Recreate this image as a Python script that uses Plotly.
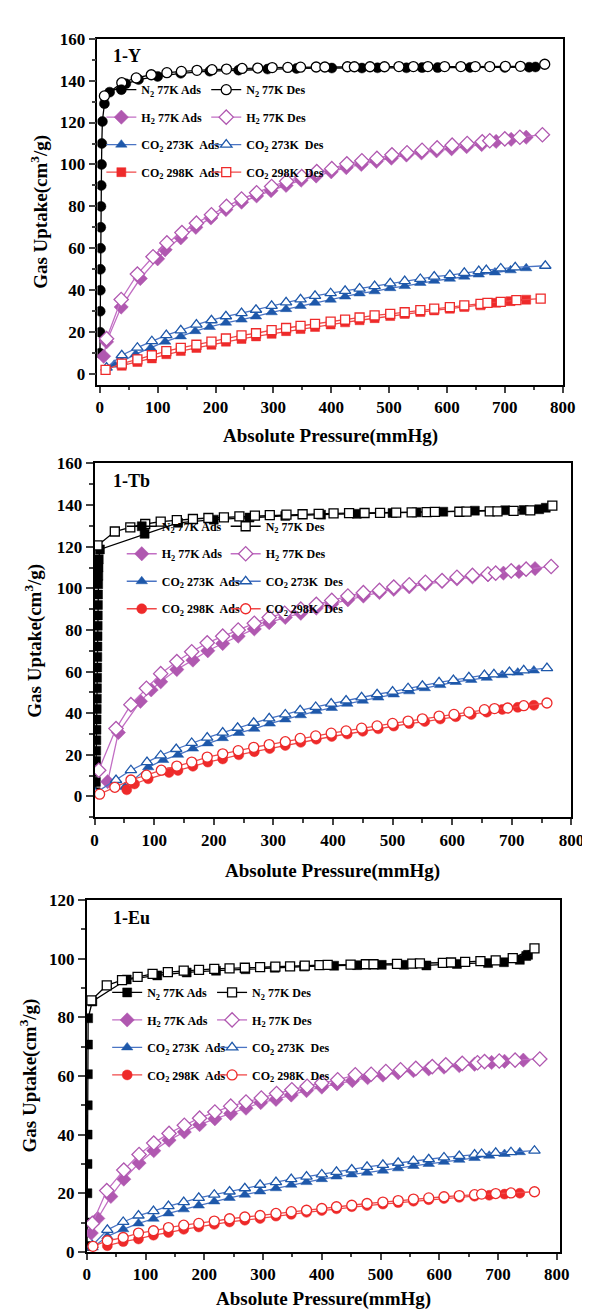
import plotly.graph_objects as go

W, H = 590, 1314
FONT = "Liberation Serif"

# ---------------- Panel 1 : 1-Y ----------------
Y_N2_ADS_P = [0.3, 0.5, 0.7, 0.9, 1.1, 1.4, 1.7, 2.0, 2.5, 3.0, 3.5, 4.5, 8, 17, 45, 67, 100, 140, 190, 240,
              290, 340, 401, 453, 480, 530, 557, 584, 640, 700, 742, 753]
Y_N2_ADS_V = [10, 20, 30, 40, 50, 60, 70, 80, 90, 100, 110, 120.5, 129, 134.5, 138.5, 140.5, 142, 143.5, 144.5, 145,
              145.5, 145.8, 146, 146, 146.1, 146.1, 146.2, 146.2, 146.3, 146.3, 146.4, 146.5]
Y_N2_DES_P = [8, 38, 63, 89, 116, 141, 168, 194, 219, 246, 273, 298, 325, 347, 374, 389, 428, 440, 467, 492,
              517, 542, 567, 596, 624, 649, 674, 701, 727, 769]
Y_N2_DES_V = [132.7, 139, 141.3, 142.8, 143.8, 144.4, 144.9, 145.2, 145.5, 145.8, 146, 146.2, 146.3, 146.4, 146.5,
              146.5, 146.6, 146.6, 146.6, 146.6, 146.7, 146.7, 146.7, 146.7, 146.7, 146.7, 146.7, 146.8, 146.8, 147.8]
Y_H2_ADS_P = [6.7, 11.7, 37, 70, 100, 113, 140, 166, 192, 218, 245, 271, 296, 322, 348, 374, 400, 426, 452, 478,
              504, 530, 556, 582, 608, 634, 660, 685, 711, 737]
Y_H2_ADS_V = [8.5, 15.4, 32, 45.6, 55, 59.3, 65, 70, 74.5, 78.5, 82, 85, 87.5, 90, 92.5, 94.5, 96.5, 98.5, 100, 101.5,
              103, 104.5, 105.5, 106.5, 107.5, 108.5, 109.5, 111, 112, 113]
Y_H2_DES_P = [11.7, 37, 65, 92, 116, 142, 167, 193, 219, 245, 271, 297, 323, 349, 375, 401, 427, 453, 479, 505,
              531, 557, 583, 609, 635, 661, 674, 700, 726, 765]
Y_H2_DES_V = [16.9, 35.6, 47.7, 56, 62.6, 67.5, 72, 76, 80, 83.5, 86.5, 89.5, 92, 94.2, 96.6, 98, 100.3, 101.8, 102.9,
              104.6, 105.6, 106.8, 107.9, 109.2, 110, 110.8, 111.3, 112.2, 113, 114.2]
Y_C273_ADS_P = [25, 38, 62, 88, 113, 140, 165, 190, 218, 245, 270, 297, 322, 347, 372, 399, 424, 449, 475, 502,
                527, 554, 578, 605, 630, 655, 683, 710, 737]
Y_C273_ADS_V = [4.5, 6, 9.5, 12.5, 15.5, 18, 20.5, 22.5, 24.5, 26, 27.5, 29.5, 31, 32.5, 34, 35.5, 37, 38.5, 39.5, 41,
                42, 43.5, 44.5, 45.5, 46.5, 47.5, 48.5, 49.5, 50.5]
Y_C273_DES_P = [11.7, 38, 65, 90, 115, 140, 167, 193, 218, 245, 270, 297, 322, 347, 372, 399, 424, 449, 475, 502,
                527, 554, 578, 605, 630, 655, 668, 693, 718, 770]
Y_C273_DES_V = [3.1, 9, 12.6, 15.7, 18.6, 20.9, 23.6, 25.7, 27.6, 29.1, 30.7, 32.6, 34.2, 35.7, 37.3, 38.6, 39.7, 40.8,
                42, 43.3, 44.4, 45.4, 46.5, 47.2, 48.3, 49.1, 49.6, 50.4, 50.9, 51.7]
Y_C298_ADS_P = [38, 65, 90, 115, 140, 167, 193, 218, 245, 270, 297, 322, 347, 372, 399, 424, 449, 475, 502, 527,
                554, 578, 605, 630, 658, 685, 710, 737]
Y_C298_ADS_V = [4, 5.8, 7.5, 9.5, 11, 12.5, 14, 15.5, 16.8, 18, 19.2, 20.5, 21.5, 22.5, 23.7, 24.7, 25.7, 26.7, 27.7,
                28.7, 29.6, 30.4, 31.2, 32, 32.8, 34, 34.8, 35.5]
Y_C298_DES_P = [10, 38, 65, 90, 115, 140, 167, 193, 218, 245, 270, 297, 322, 347, 372, 399, 424, 449, 475, 502,
                527, 554, 578, 605, 630, 658, 670, 693, 720, 762]
Y_C298_DES_V = [2, 5, 7, 9, 11, 12.5, 14, 15.5, 17, 18.5, 19.5, 21, 22, 23, 24, 25, 26, 27, 28, 28.7, 29.5, 30.5,
                31.2, 32, 32.8, 33.5, 34, 34.5, 35.3, 36]

# ---------------- Panel 2 : 1-Tb ----------------
T_N2_ADS_P = [2, 2.2, 2.4, 2.6, 2.8, 3, 3.2, 3.4, 3.6, 3.8, 4, 4.2, 4.4, 4.6, 4.8, 5, 5.2, 5.4, 5.6, 5.8,
              6, 6.3, 6.6, 7, 9, 84, 140, 200, 260, 320, 380, 440, 500, 540, 585, 638, 689, 720, 746, 757]
T_N2_ADS_V = [2, 7, 12, 17, 22, 27, 32, 37, 42, 47, 52, 57, 62, 67, 72, 77, 82, 87, 92, 97,
              102, 106, 110, 114, 118.7, 126.2, 131.5, 133, 134, 134.8, 135.4, 135.8, 136.2, 136.5, 136.8, 137.3,
              137.5, 137.6, 138, 138.7]
T_N2_DES_P = [5, 34, 60, 85, 111, 138, 165, 191, 217, 243, 269, 294, 322, 349, 376, 401, 427, 453, 479, 506,
              532, 557, 571, 612, 624, 663, 676, 703, 731, 768]
T_N2_DES_V = [120.6, 127.3, 129.3, 130.9, 132, 132.8, 133.3, 133.8, 134.1, 134.6, 134.9, 135.2, 135.4, 135.6, 135.8,
              136, 136.1, 136.2, 136.3, 136.4, 136.5, 136.6, 136.7, 136.8, 136.9, 137, 137, 137.2, 137.5, 139.7]
T_H2_ADS_P = [22, 40, 77, 95, 111, 138, 165, 190, 215, 241, 268, 293, 320, 346, 372, 398, 425, 451, 478, 502,
              528, 555, 583, 608, 634, 660, 686, 712, 739]
T_H2_ADS_V = [7.1, 30.7, 45.7, 51.2, 55.1, 61, 65.5, 70, 73.5, 77, 80.5, 83.5, 86, 88, 90.5, 92.5, 94.5, 96.3, 98,
              99.5, 100.7, 102, 103.3, 104.5, 105.5, 106.5, 107.3, 108, 109.5]
T_H2_DES_P = [7, 36, 61, 87, 111, 138, 163, 189, 215, 241, 268, 293, 319, 346, 372, 398, 425, 451, 478, 502,
              528, 555, 583, 608, 634, 660, 673, 699, 724, 766]
T_H2_DES_V = [12.6, 32.6, 44.1, 52, 59, 64.8, 69.5, 73.8, 77, 80, 83.2, 86, 88, 90, 92.3, 94.2, 96.3, 97.9, 99,
              100.6, 101.7, 102.9, 103.7, 105.3, 106.2, 106.9, 107.3, 108.4, 109.2, 110.5]
T_C273_ADS_P = [51, 90, 115, 140, 165, 190, 215, 242, 268, 294, 320, 346, 372, 398, 424, 450, 476, 502, 528, 554,
                580, 606, 632, 658, 684, 710, 737]
T_C273_ADS_V = [4.5, 14, 17.5, 20, 23, 25.5, 28, 30.5, 32.5, 35, 37, 39, 41, 42.5, 44.5, 46, 47.5, 49, 50.5, 52,
                53.5, 55, 56, 57, 58.3, 59.5, 60.5]
T_C273_DES_P = [1, 36, 61, 88, 111, 137, 163, 189, 215, 240, 267, 293, 320, 345, 371, 397, 422, 448, 474, 500,
                526, 550, 578, 602, 628, 654, 670, 696, 720, 759]
T_C273_DES_V = [1.6, 7.9, 12.6, 16.5, 19.7, 22.8, 25.7, 28.3, 30.7, 33, 35.4, 37.5, 39.4, 41.4, 43, 44.6, 46.1, 47.6,
                49.1, 50.4, 52, 53.2, 54.8, 55.9, 57.2, 58.3, 58.7, 59.8, 60.6, 61.7]
T_C298_ADS_P = [54, 67, 90, 125, 140, 165, 190, 215, 242, 268, 294, 320, 346, 372, 398, 424, 450, 476, 502, 528,
                554, 580, 606, 632, 658, 684, 710, 737]
T_C298_ADS_V = [3.2, 6, 8.5, 11.5, 12.5, 14.5, 16.5, 18, 20, 21.5, 23, 24.5, 26, 27.5, 28.8, 30, 31.3, 32.5, 33.8, 35,
                36, 37.2, 38.3, 39.4, 40.5, 41.8, 42.8, 43.8]
T_C298_DES_P = [8.5, 34, 61, 87, 112, 138, 163, 189, 215, 241, 267, 293, 320, 345, 371, 397, 422, 448, 474, 500,
                526, 550, 578, 603, 628, 654, 671, 693, 720, 759]
T_C298_DES_V = [1.1, 4.4, 7.9, 10.2, 12.6, 14.6, 16.5, 18.9, 20.5, 22, 23.6, 24.9, 26.3, 27.9, 29.1, 30.4, 31.5, 32.8,
                33.9, 35.1, 36.2, 37.3, 38.6, 39.4, 40.5, 41.7, 42.2, 42.5, 43.6, 44.9]

# ---------------- Panel 3 : 1-Eu ----------------
E_N2_ADS_P = [0.5, 0.8, 1, 1.2, 1.4, 1.6, 1.8, 2, 2.3, 9.4, 68, 120, 170, 220, 270, 320, 370, 421, 460, 502,
              540, 578, 630, 683, 710, 737, 748, 751]
E_N2_ADS_V = [2, 10, 20, 30, 40, 50, 60.6, 70.7, 79.7, 85.4, 92.9, 94.3, 95.3, 95.9, 96.4, 96.9, 97.3, 97.6, 97.8,
              97.9, 97.9, 97.7, 98.2, 98.5, 98.8, 99.6, 100.9, 101.3]
E_N2_DES_P = [7.8, 34, 60, 86.5, 112, 138, 165, 191, 217, 243, 269, 295, 321, 346, 371, 396, 410, 449, 475, 488,
              528, 554, 567, 606, 620, 644, 670, 696, 725, 762]
E_N2_DES_V = [85.8, 90.9, 92.7, 93.8, 94.8, 95.4, 95.9, 96.2, 96.5, 96.7, 96.9, 97.1, 97.3, 97.4, 97.6, 97.8, 97.9,
              98, 98.1, 98.1, 98.2, 98.3, 98.4, 98.6, 98.7, 98.9, 99.2, 99.4, 100.2, 103.5]
E_H2_ADS_P = [7.7, 18.7, 41, 63, 89, 114, 140, 166, 192, 218, 245, 271, 296, 322, 348, 374, 400, 426, 452, 478,
              504, 530, 556, 582, 608, 634, 660, 689, 711, 743]
E_H2_ADS_V = [6.4, 11.4, 18.9, 24.8, 30.3, 34.5, 38.1, 40.9, 43.4, 45.4, 47.2, 49, 50.9, 52, 53.5, 55, 56.2, 57.3,
              58.4, 59.4, 60.3, 61.1, 61.8, 62.4, 63, 63.5, 64, 64.6, 65, 65.4]
E_H2_DES_P = [9.4, 34, 63, 89, 114, 140, 166, 192, 218, 245, 271, 297, 323, 349, 375, 400, 427, 457, 484, 509,
              534, 560, 588, 611, 639, 665, 677, 702, 729, 771]
E_H2_DES_V = [9.7, 20.9, 27.9, 33.2, 37.1, 40.4, 43.2, 45.6, 47.7, 49.7, 51.1, 52.5, 54, 55.3, 56.5, 57.6, 58.7,
              60.4, 60.6, 61.5, 62.1, 62.6, 63.2, 63.8, 64.3, 64.5, 64.9, 65.1, 65.4, 65.8]
E_C273_ADS_P = [10, 35, 62, 88, 113.5, 139, 165, 190.6, 217, 243, 269, 295, 322, 348, 374, 400, 425, 451, 477, 504,
                530, 556, 582, 608, 634, 660, 685, 711, 737]
E_C273_ADS_V = [1.5, 5.3, 7.7, 9.7, 11.3, 13.1, 14.5, 15.8, 17.2, 18.4, 19.5, 20.6, 21.7, 22.9, 23.8, 24.8, 25.7,
                26.4, 27, 27.7, 28.5, 29.3, 30, 30.7, 31.4, 32, 32.8, 33.4, 34]
E_C273_DES_P = [9.4, 35, 62, 88, 113.5, 139, 165, 190.6, 217, 243, 269, 295, 322, 348, 374, 400, 425, 451, 477, 504,
                530, 556, 582, 608, 634, 660, 672, 696, 722, 762]
E_C273_DES_V = [2.2, 7.5, 10.2, 12.4, 13.9, 15.6, 17, 18.4, 19.5, 20.6, 21.7, 22.9, 23.8, 24.8, 25.7, 26.4, 27.3,
                28.1, 29, 29.7, 30.4, 31, 31.6, 32.2, 32.7, 33.2, 33.4, 33.8, 34, 34.5]
E_C298_ADS_P = [35, 62, 88, 113.5, 139, 165, 190.6, 217, 243, 269, 295, 322, 348, 374, 400, 425, 451, 477, 504, 530,
                556, 582, 608, 634, 660, 685, 711, 737]
E_C298_ADS_V = [2.1, 3.5, 4.4, 5.7, 6.6, 7.7, 8.5, 9.4, 10.2, 10.8, 11.4, 12.2, 12.8, 13.5, 14.1, 14.7, 15.4, 15.8,
                16.3, 16.8, 17.3, 17.8, 18.2, 18.6, 19, 19.3, 19.7, 20]
E_C298_DES_P = [10.5, 35, 62, 88, 113.5, 139, 165, 190.6, 217, 243, 269, 295, 322, 348, 374, 400, 425, 451, 477, 504,
                530, 556, 582, 608, 634, 660, 672, 696, 722, 762]
E_C298_DES_V = [1.9, 3.8, 4.9, 6.4, 7.2, 8.3, 9.1, 9.7, 10.5, 11.3, 11.9, 12.4, 13.1, 13.7, 14.2, 14.8, 15.4, 15.9,
                16.5, 17, 17.5, 18, 18.4, 18.8, 19.2, 19.5, 19.7, 19.9, 20.1, 20.5]

# ---------------- labels ----------------
PANEL_LABELS = ["1-Y", "1-Tb", "1-Eu"]
SERIES_NAMES = ["N<sub>2</sub> 77K Ads", "N<sub>2</sub> 77K Des",
                "H<sub>2</sub> 77K Ads", "H<sub>2</sub> 77K Des",
                "CO<sub>2</sub> 273K&nbsp; Ads", "CO<sub>2</sub> 273K&nbsp; Des",
                "CO<sub>2</sub> 298K&nbsp; Ads", "CO<sub>2</sub> 298K&nbsp; Des"]
X_TITLE = "Absolute Pressure(mmHg)"
Y_TITLE = "Gas Uptake(cm<sup>3</sup>/g)"

# ---------------- styling / layout (pixels) ----------------
BLACK = "#000000"
PURPLE_M, PURPLE_L = "#B058B0", "#C26EC4"
BLUE_M, BLUE_L = "#1E58AA", "#4A74C4"
RED_M, RED_L = "#EE2A2A", "#F04848"

panels = [
    dict(data=[(Y_N2_ADS_P, Y_N2_ADS_V, Y_N2_DES_P, Y_N2_DES_V),
               (Y_H2_ADS_P, Y_H2_ADS_V, Y_H2_DES_P, Y_H2_DES_V),
               (Y_C273_ADS_P, Y_C273_ADS_V, Y_C273_DES_P, Y_C273_DES_V),
               (Y_C298_ADS_P, Y_C298_ADS_V, Y_C298_DES_P, Y_C298_DES_V)],
         symbols=["circle", "diamond", "triangle-up", "square"],
         px=(88, 567), py=(22, 373), xr=[-4, 800], yr=[-5, 160], ytitle_x=28, xtitle_y=425,
         leg=((92, 59), (200, 59))),
    dict(data=[(T_N2_ADS_P, T_N2_ADS_V, T_N2_DES_P, T_N2_DES_V),
               (T_H2_ADS_P, T_H2_ADS_V, T_H2_DES_P, T_H2_DES_V),
               (T_C273_ADS_P, T_C273_ADS_V, T_C273_DES_P, T_C273_DES_V),
               (T_C298_ADS_P, T_C298_ADS_V, T_C298_DES_P, T_C298_DES_V)],
         symbols=["square", "diamond", "triangle-up", "circle"],
         px=(85, 576), py=(453, 812), xr=[0, 800], yr=[-10, 160], ytitle_x=22, xtitle_y=867,
         leg=((113, 502), (220, 502))),
    dict(data=[(E_N2_ADS_P, E_N2_ADS_V, E_N2_DES_P, E_N2_DES_V),
               (E_H2_ADS_P, E_H2_ADS_V, E_H2_DES_P, E_H2_DES_V),
               (E_C273_ADS_P, E_C273_ADS_V, E_C273_DES_P, E_C273_DES_V),
               (E_C298_ADS_P, E_C298_ADS_V, E_C298_DES_P, E_C298_DES_V)],
         symbols=["square", "diamond", "triangle-up", "circle"],
         px=(77, 564), py=(896, 1253), xr=[0, 805], yr=[0, 120], ytitle_x=17, xtitle_y=1301,
         leg=((98, 975), (206, 975))),
]
colors = [(BLACK, BLACK), (PURPLE_M, PURPLE_L), (BLUE_M, BLUE_L), (RED_M, RED_L)]

fig = go.Figure()
layout = dict(width=W, height=H, margin=dict(l=0, r=0, t=0, b=0),
              paper_bgcolor="white", plot_bgcolor="white",
              font=dict(family=FONT, color="black"))
annotations = []
legend_idx = 1
for i, pn in enumerate(panels):
    sfx = "" if i == 0 else str(i + 1)
    xa, ya = "x" + sfx, "y" + sfx
    leg_ads = "legend" if legend_idx == 1 else f"legend{legend_idx}"
    leg_des = f"legend{legend_idx + 1}"
    # ads traces first, then des traces
    for kind in (0, 1):
        for g, (ap, av, dp, dv) in enumerate(pn["data"]):
            mc, lc = colors[g]
            sym = pn["symbols"][g]
            msize = 11 if sym == "diamond" else (9 if sym == "square" else 10)
            if kind == 0:
                x, y = ap, av
                marker = dict(symbol=sym, size=msize, color=mc, line=dict(color=mc, width=0.5))
                name = SERIES_NAMES[2 * g]
                leg = leg_ads
            else:
                x, y = dp, dv
                marker = dict(symbol=sym, size=msize, color="white", line=dict(color=mc, width=1.3))
                name = SERIES_NAMES[2 * g + 1]
                leg = leg_des
            fig.add_trace(go.Scatter(x=x, y=y, mode="lines+markers", name=name,
                                     line=dict(color=lc, width=1.3), marker=marker,
                                     xaxis=xa, yaxis=ya, legend=leg,
                                     legendgroup=f"p{i}k{kind}g{g}"))
    x0, x1 = pn["px"]
    y0, y1 = pn["py"]
    tickfont = dict(family=FONT, size=17, color="black", weight="bold")
    layout["xaxis" + sfx] = dict(domain=[x0 / W, x1 / W], anchor=ya, range=pn["xr"],
                                 tickmode="linear", tick0=0, dtick=100, ticks="outside", ticklen=6,
                                 tickwidth=1.6, showline=True, linewidth=1.8, linecolor="black",
                                 mirror=True, showgrid=False, zeroline=False, tickfont=tickfont,
                                 minor=dict(ticks="outside", ticklen=3.5, tickwidth=1.6, dtick=50,
                                            tick0=0, showgrid=False))
    layout["yaxis" + sfx] = dict(domain=[1 - y1 / H, 1 - y0 / H], anchor=xa, range=pn["yr"],
                                 tickmode="linear", tick0=0, dtick=20, ticks="outside", ticklen=7,
                                 tickwidth=1.6, showline=True, linewidth=1.8, linecolor="black",
                                 mirror=True, showgrid=False, zeroline=False, tickfont=tickfont,
                                 minor=dict(ticks="outside", ticklen=4, tickwidth=1.6, dtick=10,
                                            tick0=0, showgrid=False))
    legfont = dict(family=FONT, size=12, color="black", weight="bold")
    for li, (lx, ly) in zip((leg_ads, leg_des), pn["leg"]):
        layout[li] = dict(x=lx / W, y=1 - ly / H, xanchor="left", yanchor="top",
                          bgcolor="rgba(0,0,0,0)", borderwidth=0, font=legfont,
                          tracegroupgap=8.5, itemwidth=30, traceorder="grouped")
    legend_idx += 2
    annotations.append(dict(text=PANEL_LABELS[i], x=102 / W, y=1 - (y0 + 18) / H, xref="paper", yref="paper",
                            xanchor="left", yanchor="middle", showarrow=False,
                            font=dict(family=FONT, size=18, color="black", weight="bold")))
    annotations.append(dict(text=X_TITLE, x=(x0 + x1) / 2 / W, y=1 - pn["xtitle_y"] / H, xref="paper",
                            yref="paper", xanchor="center", yanchor="middle", showarrow=False,
                            font=dict(family=FONT, size=19, color="black", weight="bold")))
    annotations.append(dict(text=Y_TITLE, x=pn["ytitle_x"] / W, y=1 - (y0 + y1) / 2 / H, xref="paper",
                            yref="paper", xanchor="center", yanchor="middle", showarrow=False,
                            textangle=-90,
                            font=dict(family=FONT, size=19, color="black", weight="bold")))

layout["annotations"] = annotations
fig.update_layout(**layout)
fig.write_html("out.html")
